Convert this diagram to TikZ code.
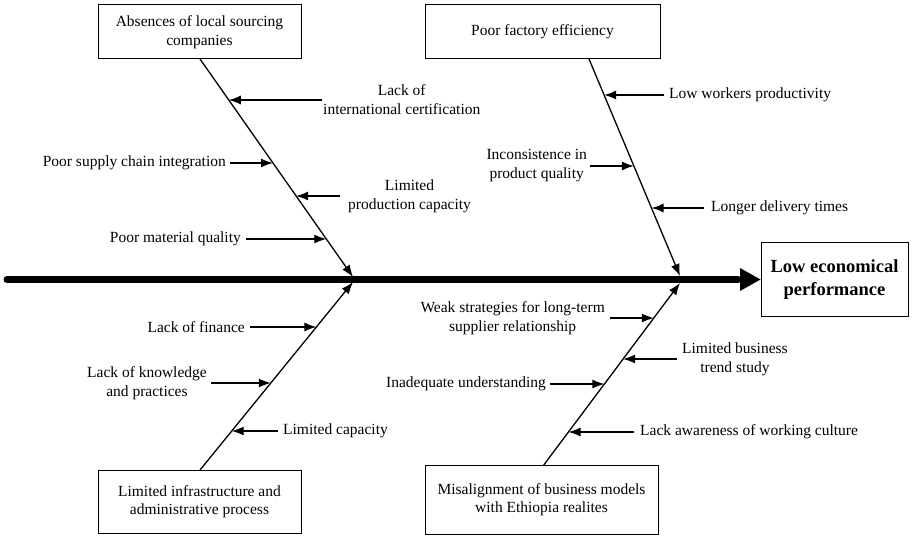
\documentclass[tikz,border=0pt]{standalone}
\usepackage{fontspec}
\setmainfont{Liberation Serif}
\usetikzlibrary{arrows.meta}
\tikzset{
  box/.style={draw, line width=1pt, inner sep=0pt, align=center, font=\fontsize{15.5}{18.5}\selectfont},
  lbl/.style={inner sep=0pt, align=center, font=\fontsize{15.5}{19}\selectfont},
  bone/.style={line width=1.3pt, -{Latex[length=12pt,width=9pt]}},
  br/.style={line width=1.3pt, -{Latex[length=12pt,width=9pt]}},
  spine/.style={line width=7pt, line cap=round}
}
\begin{document}
\begin{tikzpicture}[x=1pt,y=-1pt]
\useasboundingbox (0,0) rectangle (912,537);
% boxes
\node[box, minimum width=203pt, minimum height=54pt] (tl) at (199.5,32) {Absences of local sourcing\\companies};
\node[box, minimum width=235pt, minimum height=54pt] (tr) at (542.5,32) {Poor factory efficiency};
\node[box, minimum width=203pt, minimum height=63pt] (bl) at (199.5,501.5) {Limited infrastructure and\\administrative process};
\node[box, minimum width=233pt, minimum height=69pt] (bb) at (541.5,499.5) {Misalignment of business models\\with Ethiopia realites};
\node[box, minimum width=147pt, minimum height=73pt, font=\fontsize{18.5}{23}\selectfont\bfseries] (res) at (834.5,279.5) {Low economical\\performance};
% spine
\coordinate (s0) at (7,279.5);
\coordinate (s1) at (738,279.5);
\draw[spine] (s0) -- (s1);
\fill (740,268) -- (res.west) -- (740,291) -- cycle;
% bone ends
\coordinate (tls) at (200,59);
\coordinate (trs) at (589,59);
\coordinate (bls) at (200,470);
\coordinate (brs) at (543,466);
\coordinate (j1) at (353,277);
\coordinate (j2) at (680,276);
\coordinate (j3) at (353,282);
\coordinate (j4) at (680,283);
\draw[bone] (tls) -- (j1);
\draw[bone] (trs) -- (j2);
\draw[bone] (bls) -- (j3);
\draw[bone] (brs) -- (j4);
% points on bones
\coordinate (a1) at (228.8,100);
\coordinate (a2) at (273.0,163);
\coordinate (a3) at (296.1,196);
\coordinate (a4) at (326.3,239);
\coordinate (b1) at (604.1,95);
\coordinate (b2) at (633.9,166);
\coordinate (b3) at (651.5,208);
\coordinate (c1) at (316.4,327);
\coordinate (c2) at (270.8,383);
\coordinate (c3) at (231.7,431);
\coordinate (d1) at (653.8,318);
\coordinate (d2) at (623.1,359);
\coordinate (d3) at (604.4,384);
\coordinate (d4) at (568.5,432);
% labels top-left
\node[lbl, anchor=west] (l1) at (323,100) {Lack of\\international certification};
\node[lbl, anchor=east] (l2) at (226,163) {Poor supply chain integration};
\node[lbl, anchor=west] (l3) at (348,196) {Limited\\production capacity};
\node[lbl, anchor=east] (l4) at (241,239) {Poor material quality};
\draw[br] ([xshift=-1pt]l1.west) -- (a1);
\draw[br] ([xshift=4pt]l2.east) -- (a2);
\draw[br] ([xshift=-8pt]l3.west) -- (a3);
\draw[br] ([xshift=5pt]l4.east) -- (a4);
% labels top-right
\node[lbl, anchor=west] (m1) at (669,95) {Low workers productivity};
\node[lbl, anchor=east] (m2) at (587,166) {Inconsistence in\\product quality};
\node[lbl, anchor=west] (m3) at (711,208) {Longer delivery times};
\draw[br] ([xshift=-5pt]m1.west) -- (b1);
\draw[br] ([xshift=3pt]m2.east) -- (b2);
\draw[br] ([xshift=-7pt]m3.west) -- (b3);
% labels bottom-left
\node[lbl, anchor=east] (n1) at (245,327) {Lack of finance};
\node[lbl, anchor=east] (n2) at (207,383) {Lack of knowledge\\and practices};
\node[lbl, anchor=west] (n3) at (283,431) {Limited capacity};
\draw[br] ([xshift=5pt]n1.east) -- (c1);
\draw[br] ([xshift=4pt]n2.east) -- (c2);
\draw[br] ([xshift=-5pt]n3.west) -- (c3);
% labels bottom-right
\node[lbl, anchor=east] (o1) at (605,318) {Weak strategies for long-term\\supplier relationship};
\node[lbl, anchor=west] (o2) at (682,359) {Limited business\\trend study};
\node[lbl, anchor=east] (o3) at (546,384) {Inadequate understanding};
\node[lbl, anchor=west] (o4) at (640,432) {Lack awareness of working culture};
\draw[br] ([xshift=5pt]o1.east) -- (d1);
\draw[br] ([xshift=-5pt]o2.west) -- (d2);
\draw[br] ([xshift=4pt]o3.east) -- (d3);
\draw[br] ([xshift=-6pt]o4.west) -- (d4);
\end{tikzpicture}
\end{document}
